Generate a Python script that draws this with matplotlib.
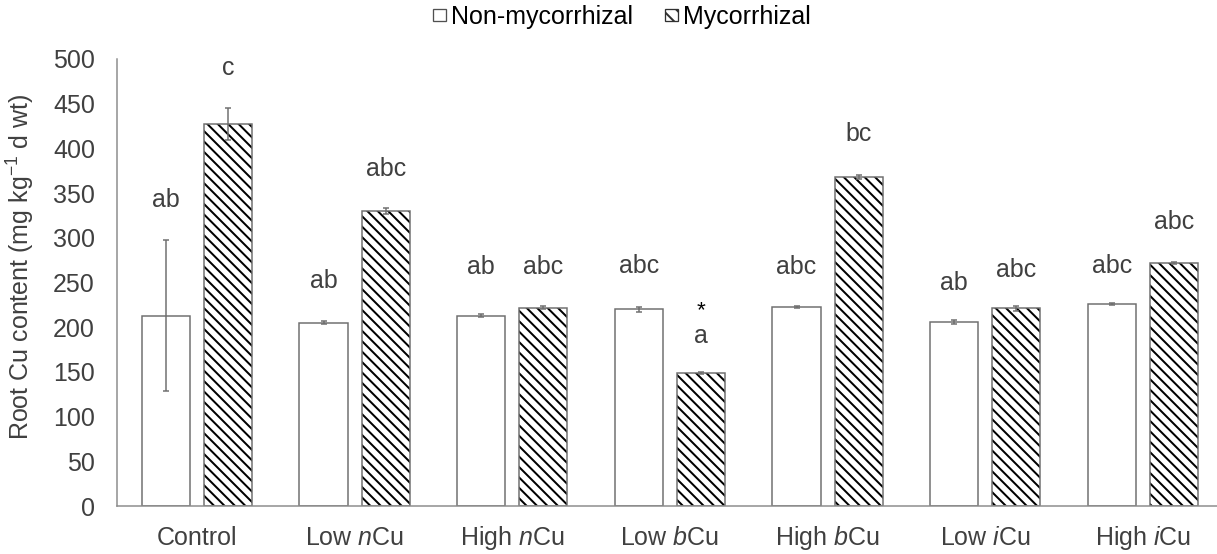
import matplotlib
matplotlib.use("Agg")
import matplotlib.pyplot as plt
from matplotlib.patches import Patch
import numpy as np

# Treatments and root Cu content (mg kg-1 d wt)
treatments = ["Control", "Low $\\it{n}$Cu", "High $\\it{n}$Cu", "Low $\\it{b}$Cu",
              "High $\\it{b}$Cu", "Low $\\it{i}$Cu", "High $\\it{i}$Cu"]
non_myc = [213, 205, 213, 220, 223, 206, 226]
non_myc_err = [84, 1.5, 2, 3, 1, 2, 1]
myc = [427, 330, 222, 149, 368, 221, 272]
myc_err = [18, 3, 2, 1, 2, 3, 1]

# Significance letters
non_myc_letters = ["ab", "ab", "ab", "abc", "abc", "ab", "abc"]
myc_letters = ["c", "abc", "abc", "a", "bc", "abc", "abc"]
myc_stars = ["", "", "", "*", "", "", ""]

# Baseline heights (data units) for the letter annotations
non_myc_label_y = [335, 244, 259, 261, 259, 242, 261]
myc_label_y = [482, 369, 259, 182, 408, 256, 310]
star_label_y = 212

DPI = 125
W, H = 1217, 554


def pt(px):
    """Convert a size in pixels to points at the output resolution."""
    return px * 72.0 / DPI


plt.rcParams["font.family"] = ["Liberation Sans", "DejaVu Sans"]
plt.rcParams["mathtext.fontset"] = "custom"
plt.rcParams["mathtext.rm"] = "Liberation Sans"
plt.rcParams["mathtext.it"] = "Liberation Sans:italic"
plt.rcParams["mathtext.bf"] = "Liberation Sans:bold"
plt.rcParams["hatch.linewidth"] = pt(2.0)

text_color = "#404040"
edge_color = "#6e6e6e"
fs = pt(25)
hatch = "\\\\\\\\"

fig = plt.figure(figsize=(W / DPI, H / DPI), dpi=DPI)
ax_left, ax_bottom, ax_top = 117, 506, 59
ax = fig.add_axes([ax_left / W, (H - ax_bottom) / H, 1 - ax_left / W,
                   (ax_bottom - ax_top) / H])

x = np.arange(len(treatments))
w = 0.305
off = 0.197

# Non-mycorrhizal: plain white bars
ax.bar(x - off, non_myc, w, color="white", edgecolor=edge_color,
       linewidth=pt(1.5), zorder=2)
# Mycorrhizal: black diagonal hatch, then a grey outline on top
ax.bar(x + off, myc, w, color="white", edgecolor="black", linewidth=0,
       hatch=hatch, zorder=2)
ax.bar(x + off, myc, w, fill=False, edgecolor=edge_color, linewidth=pt(1.5),
       zorder=2.5)

ax.errorbar(x - off, non_myc, yerr=non_myc_err, fmt="none", ecolor=edge_color,
            elinewidth=pt(1.5), capsize=pt(3), capthick=pt(1.5), zorder=3)
ax.errorbar(x + off, myc, yerr=myc_err, fmt="none", ecolor=edge_color,
            elinewidth=pt(1.5), capsize=pt(3), capthick=pt(1.5), zorder=3)

for i in range(len(treatments)):
    ax.text(x[i] - off, non_myc_label_y[i], non_myc_letters[i], ha="center",
            va="baseline", fontsize=fs, color=text_color)
    ax.text(x[i] + off, myc_label_y[i], myc_letters[i], ha="center",
            va="baseline", fontsize=fs, color=text_color)
    if myc_stars[i]:
        ax.text(x[i] + off, star_label_y, myc_stars[i], ha="center",
                va="baseline", fontsize=fs * 0.9, color="black")

ax.set_xlim(-0.507, 6.47)
ax.set_ylim(0, 500)
ax.set_yticks(np.arange(0, 501, 50))
ax.set_xticks(x)
ax.set_xticklabels(treatments)
ax.tick_params(axis="both", length=0, labelsize=fs, labelcolor=text_color)
ax.tick_params(axis="y", pad=pt(22))
ax.tick_params(axis="x", pad=pt(39))
for lab in ax.get_xticklabels():
    lab.set_verticalalignment("baseline")
for s in ("top", "right"):
    ax.spines[s].set_visible(False)
for s in ("left", "bottom"):
    ax.spines[s].set_color("#8c8c8c")
    ax.spines[s].set_linewidth(pt(1.5))

ax.set_ylabel("Root Cu content (mg kg$^{-1}$ d wt)", fontsize=fs, color=text_color)
ax.yaxis.set_label_coords(-(ax_left - 37) / (W - ax_left),
                          (ax_bottom - 267) / (ax_bottom - ax_top))

handles = [
    Patch(facecolor="white", edgecolor="#505050", linewidth=pt(1.3),
          label="Non-mycorrhizal"),
    Patch(facecolor="white", edgecolor="#303030", linewidth=pt(1.3),
          hatch="\\\\\\", label="Mycorrhizal"),
]
fig.legend(handles=handles, loc="center", bbox_to_anchor=(622 / W, 1 - 17 / H),
           ncol=2, frameon=False, fontsize=fs, handlelength=0.5,
           handleheight=0.35, handletextpad=0.2, columnspacing=1.3,
           labelcolor="black", borderpad=0, borderaxespad=0)

fig.savefig("out.png", dpi=DPI)
